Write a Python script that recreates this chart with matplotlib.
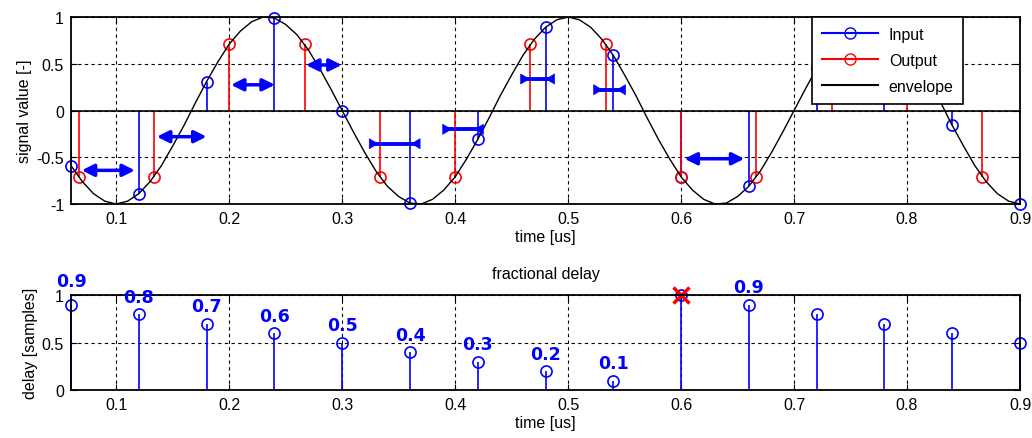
import numpy as np
import matplotlib.pyplot as plt
from matplotlib.lines import Line2D
from matplotlib.legend_handler import HandlerLine2D

plt.rcParams['font.family'] = ['Liberation Sans', 'DejaVu Sans']
plt.rcParams['axes.unicode_minus'] = False

# input samples (every 0.06 us)
t_in = [0.06, 0.12, 0.18, 0.24, 0.30, 0.36, 0.42, 0.48, 0.54, 0.60,
        0.66, 0.72, 0.78, 0.84, 0.90]
x_in = [-0.59, -0.89, 0.31, 0.99, 0.0, -0.99, -0.31, 0.89, 0.59, -0.71,
        -0.81, 0.45, 0.95, -0.16, -1.0]

# output samples (every 1/15 us)
t_out = [0.0667, 0.1333, 0.2, 0.2667, 0.3333, 0.4, 0.4667, 0.5333, 0.6,
         0.6667, 0.7333, 0.8, 0.8667]
x_out = [-0.71, -0.71, 0.71, 0.71, -0.71, -0.71, 0.71, 0.71, -0.71,
         -0.71, 0.71, 0.71, -0.71]

# envelope, read every 0.01 us from 0.06 to 0.90
t_env = np.linspace(0.06, 0.90, 85)
x_env = [-0.59, -0.76, -0.89, -0.97, -1.0, -0.97, -0.89, -0.76, -0.59, -0.38,
         -0.16, 0.08, 0.31, 0.52, 0.71, 0.85, 0.95, 1.0, 0.99, 0.92,
         0.81, 0.65, 0.45, 0.23, 0.0, -0.23, -0.45, -0.65, -0.81, -0.92,
         -0.99, -1.0, -0.95, -0.85, -0.71, -0.52, -0.31, -0.08, 0.16, 0.38,
         0.59, 0.76, 0.89, 0.97, 1.0, 0.97, 0.89, 0.76, 0.59, 0.38,
         0.16, -0.08, -0.31, -0.52, -0.71, -0.85, -0.95, -1.0, -0.99, -0.92,
         -0.81, -0.65, -0.45, -0.23, 0.0, 0.23, 0.45, 0.65, 0.81, 0.92,
         0.99, 1.0, 0.95, 0.85, 0.71, 0.52, 0.31, 0.08, -0.16, -0.38,
         -0.59, -0.76, -0.89, -0.97, -1.0]

# shift arrows between output and input samples
arr_x1 = [0.0695, 0.136, 0.2016, 0.268, 0.603]
arr_x2 = [0.1166, 0.180, 0.2405, 0.2996, 0.656]
arr_y = [-0.64, -0.28, 0.275, 0.487, -0.516]
# short ones (heads drawn inverted)
sarr_x1 = [0.326, 0.391, 0.460, 0.5246]
sarr_x2 = [0.367, 0.423, 0.486, 0.5488]
sarr_y = [-0.355, -0.201, 0.337, 0.222]

# fractional delay
delay = [0.9, 0.8, 0.7, 0.6, 0.5, 0.4, 0.3, 0.2, 0.1, 1.0,
         0.9, 0.8, 0.7, 0.6, 0.5]
delay_labels = ['0.9', '0.8', '0.7', '0.6', '0.5', '0.4', '0.3', '0.2', '0.1',
                '', '0.9', '', '', '', '']
wrap_t = 0.6

FS = 11.5


class EndMarker(HandlerLine2D):
    def get_xdata(self, legend, xdescent, ydescent, width, height, fontsize):
        return [-xdescent, -xdescent + width], [-xdescent + width]


def style_axes(ax):
    ax.grid(True, color='k', linestyle=(0, (3, 3)), linewidth=0.8)
    ax.tick_params(direction='in', top=True, right=True, length=4,
                   labelsize=FS, pad=5)
    for s in ax.spines.values():
        s.set_linewidth(1.3)


fig = plt.figure(figsize=(10.32, 4.39), dpi=100)
ax1 = fig.add_axes([0.0688, 0.533, 0.9196, 0.426])
ax2 = fig.add_axes([0.0688, 0.1093, 0.9196, 0.2164])

# top panel
ax1.vlines(t_in, 0, x_in, color='b', lw=1.2)
ax1.plot(t_in, x_in, 'o', color='b', mfc='none', ms=8, mew=1.2, clip_on=False)
ax1.vlines(t_out, 0, x_out, color='r', lw=1.2)
ax1.plot(t_out, x_out, 'o', color='r', mfc='none', ms=8, mew=1.2, clip_on=False)
ax1.axhline(0, color='k', lw=1.2)
ax1.plot(t_env, x_env, color='k', lw=1.0)

for a, b, y in zip(arr_x1, arr_x2, arr_y):
    ax1.annotate('', xy=(b, y), xytext=(a, y),
                 arrowprops=dict(arrowstyle='<|-|>,head_length=0.6,head_width=0.3',
                                 color='b', lw=2.5, shrinkA=0, shrinkB=0,
                                 mutation_scale=12))
for a, b, y in zip(sarr_x1, sarr_x2, sarr_y):
    ax1.plot([a, b], [y, y], color='b', lw=2.8)
    d = 0.006
    for p, q in ((a, a + d), (b, b - d)):
        ax1.annotate('', xy=(q, y), xytext=(p, y),
                     arrowprops=dict(arrowstyle='-|>,head_length=0.5,head_width=0.3',
                                     color='b', lw=0.5, shrinkA=0, shrinkB=0,
                                     mutation_scale=12))

ax1.set_xlim(0.06, 0.9)
ax1.set_ylim(-1, 1)
ax1.set_xticks([0.1, 0.2, 0.3, 0.4, 0.5, 0.6, 0.7, 0.8, 0.9])
ax1.set_yticks([-1, -0.5, 0, 0.5, 1])
ax1.set_yticklabels(['-1', '-0.5', '0', '0.5', '1'])
ax1.set_xlabel('time [us]', fontsize=FS, labelpad=2)
ax1.set_ylabel('signal value [-]', fontsize=FS, labelpad=3)
style_axes(ax1)

handles = [Line2D([], [], color='b', marker='o', mfc='none', ms=8),
           Line2D([], [], color='r', marker='o', mfc='none', ms=8),
           Line2D([], [], color='k')]
leg = ax1.legend(handles, ['Input', 'Output', 'envelope'], loc='upper left',
                 bbox_to_anchor=(0.781, 1.0), borderaxespad=0, fancybox=False,
                 framealpha=1, edgecolor='k', fontsize=FS, handlelength=3.5,
                 handletextpad=0.7, labelspacing=0.7, borderpad=0.6,
                 handler_map={Line2D: EndMarker(numpoints=1)})
leg.get_frame().set_linewidth(1.2)

# bottom panel
ax2.vlines(t_in, 0, delay, color='b', lw=1.2, clip_on=False)
ax2.plot(t_in, delay, 'o', color='b', mfc='none', ms=8, mew=1.2, clip_on=False)
ax2.plot([wrap_t], [1.0], 'x', color='r', ms=11, mew=2.5, clip_on=False)
for t, d, lab in zip(t_in, delay, delay_labels):
    if lab:
        off = 0.25 if t == t_in[0] else 0.18
        ax2.text(t, d + off, lab, color='b', fontsize=12.5, fontweight='bold',
                 family='DejaVu Sans', ha='center', va='center')

ax2.set_xlim(0.06, 0.9)
ax2.set_ylim(0, 1)
ax2.set_xticks([0.1, 0.2, 0.3, 0.4, 0.5, 0.6, 0.7, 0.8, 0.9])
ax2.set_yticks([0, 0.5, 1])
ax2.set_yticklabels(['0', '0.5', '1'])
ax2.set_xlabel('time [us]', fontsize=FS, labelpad=2)
ax2.set_ylabel('delay [samples]', fontsize=FS, labelpad=3)
ax2.set_title('fractional delay', fontsize=FS, pad=12)
style_axes(ax2)

fig.savefig('out.png', dpi=100)
